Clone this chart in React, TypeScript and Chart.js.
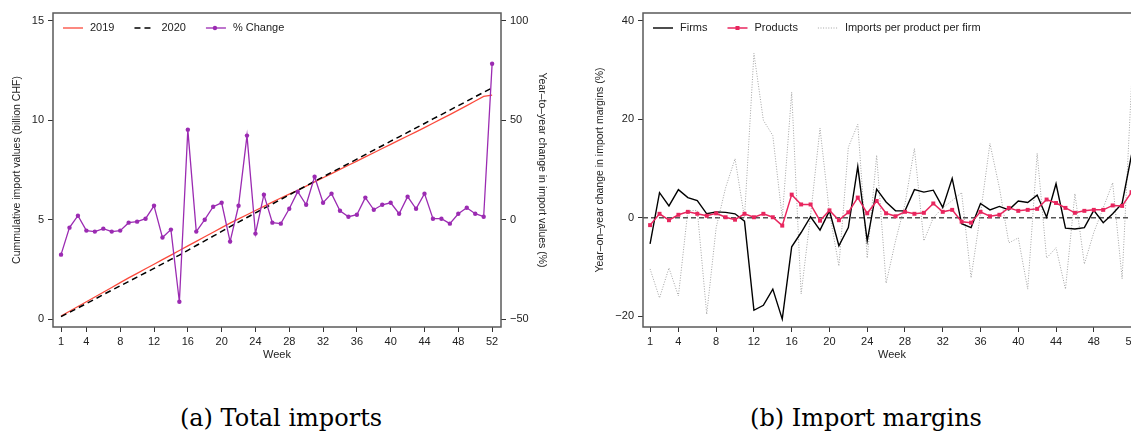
import React, { useEffect, useRef } from "react";
import { Chart, registerables } from "chart.js";

Chart.register(...registerables);

const FONT = "'Liberation Sans', Arial, Helvetica, sans-serif";

// ---------- data ----------
const weeks = [
  1, 2, 3, 4, 5, 6, 7, 8, 9, 10, 11, 12, 13, 14, 15, 16, 17, 18, 19, 20, 21, 22, 23, 24, 25, 26,
  27, 28, 29, 30, 31, 32, 33, 34, 35, 36, 37, 38, 39, 40, 41, 42, 43, 44, 45, 46, 47, 48, 49, 50, 51, 52,
];
const weekTicks = [1, 4, 8, 12, 16, 20, 24, 28, 32, 36, 40, 44, 48, 52];

// (a) Total imports
const cum2019 = [
  0.15, 0.39, 0.63, 0.87, 1.11, 1.35, 1.59, 1.83, 2.07, 2.3, 2.53, 2.76, 2.99, 3.22, 3.45, 3.68,
  3.91, 4.14, 4.37, 4.6, 4.83, 5.04, 5.25, 5.46, 5.67, 5.88, 6.09, 6.29, 6.48, 6.69, 6.9, 7.11,
  7.32, 7.53, 7.74, 7.95, 8.16, 8.37, 8.58, 8.79, 9.0, 9.21, 9.42, 9.63, 9.85, 10.07, 10.29, 10.51,
  10.74, 10.97, 11.2, 11.27,
];
const cum2020 = [
  0.12, 0.34, 0.56, 0.78, 1.0, 1.23, 1.45, 1.67, 1.89, 2.11, 2.33, 2.55, 2.78, 3.0, 3.22, 3.46,
  3.7, 3.93, 4.17, 4.41, 4.65, 4.88, 5.11, 5.34, 5.57, 5.79, 6.02, 6.25, 6.48, 6.7, 6.93, 7.15,
  7.38, 7.6, 7.82, 8.05, 8.27, 8.5, 8.72, 8.95, 9.17, 9.39, 9.62, 9.84, 10.07, 10.29, 10.51, 10.74,
  10.96, 11.19, 11.41, 11.63,
];
const pctChange = [
  -17.6, -4.0, 2.0, -5.5, -6.0, -4.5, -6.0, -5.5, -1.5, -1.0, 0.5, 7.0, -9.0, -5.0, -41.3, 45.3,
  -6.0, 0.0, 6.5, 8.5, -11.0, 7.0, 42.3, -7.0, 12.6, -1.5, -2.0, 5.5, 14.1, 7.5, 21.6, 8.5,
  13.1, 4.5, 1.5, 2.5, 11.1, 5.0, 7.5, 8.5, 3.0, 11.6, 5.5, 13.1, 0.5, 0.5, -2.0, 3.0,
  6.0, 3.0, 1.5, 78.5,
];
const cumTicks = [0, 5, 10, 15];
const pctTicks = [-50, 0, 50, 100];

// (b) Import margins
const firms = [
  -5.3, 5.1, 2.4, 5.7, 4.1, 3.5, 0.8, 1.2, 1.1, 0.8, -0.7, -18.8, -17.8, -14.5, -20.6, -5.9,
  -3.0, 0.2, -2.5, 1.4, -5.7, -2.0, 10.4, -4.7, 5.8, 3.2, 1.4, 1.4, 5.7, 5.2, 5.6, 2.1,
  8.0, -1.2, -2.0, 2.9, 1.6, 2.3, 1.6, 3.4, 3.1, 4.6, 0.1, 6.9, -2.1, -2.3, -2.0, 1.5,
  -1.0, 0.8, 2.9, 12.8,
];
const products = [
  -1.5, 0.8, -0.5, 0.6, 1.2, 0.8, 0.4, 0.9, 0.1, -0.4, 0.8, 0.1, 0.8, 0.1, -1.6, 4.7,
  2.7, 2.7, -0.6, 1.5, -0.5, 1.1, 4.1, 0.9, 3.4, 0.9, 0.3, 1.2, 0.8, 1.0, 2.9, 1.2,
  1.6, -0.8, -1.0, 1.2, 0.3, 0.6, 2.0, 1.4, 1.6, 1.8, 3.7, 3.0, 2.0, 1.0, 1.4, 1.6,
  1.6, 2.5, 2.4, 5.2,
];
const perProductPerFirm = [
  -10.4, -16.3, -10.2, -15.9, 1.4, 1.5, -19.6, -2.0, 6.1, 12.0, 0.0, 33.4, 19.8, 16.7, 0.0, 25.5,
  -15.5, 0.5, 18.2, 1.0, -9.8, 14.3, 19.0, -8.2, 12.7, -13.3, -4.7, 2.8, 14.1, -4.7, 0.0, 2.0,
  3.5, 5.1, -12.2, 0.8, 15.1, 6.1, -5.1, -4.1, -14.5, 13.1, -8.2, -6.1, -14.5, 4.9, -9.4, -3.0,
  2.0, 7.1, -12.4, 27.3,
];
const marginTicks = [-20, 0, 20, 40];

// ---------- helpers ----------
const toXY = (ys: number[]) => ys.map((y, i) => ({ x: weeks[i], y }));
const fmt = (v: number) => (v < 0 ? "\u2212" + Math.abs(v) : String(v));

type LegendItem = {
  label: string;
  color: string;
  width: number;
  dash: number[];
  marker?: "circle" | "rect";
};

function framePlugin() {
  return {
    id: "frameBox",
    afterDraw(chart: any) {
      const { ctx, chartArea: a } = chart;
      ctx.save();
      ctx.strokeStyle = "#5a5a5a";
      ctx.lineWidth = 1.5;
      ctx.strokeRect(a.left, a.top, a.right - a.left, a.bottom - a.top);
      ctx.restore();
    },
  };
}

function zeroLinePlugin(axisId: string) {
  return {
    id: "zeroLine",
    beforeDatasetsDraw(chart: any) {
      const { ctx, chartArea: a } = chart;
      const y = chart.scales[axisId].getPixelForValue(0);
      ctx.save();
      ctx.strokeStyle = "#555";
      ctx.lineWidth = 1.5;
      ctx.setLineDash([5, 3]);
      ctx.beginPath();
      ctx.moveTo(a.left, y);
      ctx.lineTo(a.right, y);
      ctx.stroke();
      ctx.restore();
    },
  };
}

function legendPlugin(items: LegendItem[]) {
  return {
    id: "insideLegend",
    afterDraw(chart: any) {
      const { ctx, chartArea } = chart;
      ctx.save();
      ctx.font = `11px ${FONT}`;
      ctx.textBaseline = "middle";
      ctx.textAlign = "left";
      let x = chartArea.left + 10;
      const y = chartArea.top + 15;
      for (const it of items) {
        ctx.strokeStyle = it.color;
        ctx.lineWidth = it.width;
        ctx.setLineDash(it.dash);
        ctx.beginPath();
        ctx.moveTo(x, y);
        ctx.lineTo(x + 20, y);
        ctx.stroke();
        ctx.setLineDash([]);
        ctx.fillStyle = it.color;
        if (it.marker === "circle") {
          ctx.beginPath();
          ctx.arc(x + 9, y, 2.2, 0, Math.PI * 2);
          ctx.fill();
        } else if (it.marker === "rect") {
          ctx.fillRect(x + 8, y - 2, 4, 4);
        }
        ctx.fillStyle = "#222";
        ctx.fillText(it.label, x + 27, y);
        x += 27 + ctx.measureText(it.label).width + 20;
      }
      ctx.restore();
    },
  };
}

function xAxis(min: number, max: number) {
  return {
    type: "linear" as const,
    min,
    max,
    afterBuildTicks: (s: any) => {
      s.ticks = weekTicks.map((v) => ({ value: v }));
    },
    afterFit: (s: any) => {
      s.height = 43;
    },
    ticks: {
      font: { size: 11, family: FONT },
      color: "#222",
      padding: 3,
      maxRotation: 0,
      autoSkip: false,
      callback: (v: any) => fmt(Number(v)),
    },
    grid: { drawOnChartArea: false, tickLength: 5, color: "#333", lineWidth: 1 },
    border: { display: false },
    title: {
      display: true,
      text: "Week",
      font: { size: 11, family: FONT },
      color: "#222",
      padding: { top: 0, bottom: 8.4 },
    },
  };
}

function yAxis(
  position: "left" | "right",
  min: number,
  max: number,
  tickVals: number[],
  width: number,
  title: string,
  titlePad: number
) {
  return {
    type: "linear" as const,
    position,
    min,
    max,
    afterBuildTicks: (s: any) => {
      s.ticks = tickVals.map((v) => ({ value: v }));
    },
    afterFit: (s: any) => {
      s.width = width;
    },
    ticks: {
      font: { size: 11, family: FONT },
      color: "#222",
      padding: 4,
      callback: (v: any) => fmt(Number(v)),
    },
    grid: { drawOnChartArea: false, tickLength: 5, color: "#333", lineWidth: 1 },
    border: { display: false },
    title: {
      display: true,
      text: title,
      font: { size: 10.5, family: FONT },
      color: "#222",
      padding: { top: titlePad, bottom: 0 },
    },
  };
}

export default function App() {
  const leftRef = useRef<HTMLCanvasElement>(null);
  const rightRef = useRef<HTMLCanvasElement>(null);

  useEffect(() => {
    Chart.defaults.font.family = FONT;

    const red = "#fb4a3c";
    const purple = "#9b2bb2";
    const pink = "#e8265e";
    const gray = "#a3a3a3";

    const c1 = new Chart(leftRef.current as HTMLCanvasElement, {
      type: "line",
      data: {
        datasets: [
          {
            label: "% Change",
            data: toXY(pctChange),
            yAxisID: "y2",
            borderColor: purple,
            backgroundColor: purple,
            borderWidth: 1.3,
            pointRadius: 2.2,
            pointBorderWidth: 0,
            pointBackgroundColor: purple,
            order: 1,
          },
          {
            label: "2020",
            data: toXY(cum2020),
            yAxisID: "y",
            borderColor: "#000",
            borderWidth: 1.5,
            borderDash: [6, 4],
            pointRadius: 0,
            order: 2,
          },
          {
            label: "2019",
            data: toXY(cum2019),
            yAxisID: "y",
            borderColor: red,
            borderWidth: 1.3,
            pointRadius: 0,
            order: 3,
          },
        ],
      },
      options: {
        responsive: false,
        animation: false,
        layout: { padding: { top: 13, right: 0, left: 0, bottom: 0 } },
        plugins: { legend: { display: false }, tooltip: { enabled: false } },
        scales: {
          x: xAxis(0.05, 53.05),
          y: yAxis("left", -0.4, 15.4, cumTicks, 53, "Cummulative import values (billion CHF)", 11),
          y2: yAxis("right", -54, 104, pctTicks, 74, "Year\u2013to\u2013year change in import values (%)", 26.4),
        },
      },
      plugins: [
        framePlugin(),
        legendPlugin([
          { label: "2019", color: red, width: 1.3, dash: [] },
          { label: "2020", color: "#000", width: 1.5, dash: [6, 4] },
          { label: "% Change", color: purple, width: 1.3, dash: [], marker: "circle" },
        ]),
      ],
    } as any);

    const c2 = new Chart(rightRef.current as HTMLCanvasElement, {
      type: "line",
      data: {
        datasets: [
          {
            label: "Products",
            data: toXY(products),
            borderColor: pink,
            backgroundColor: pink,
            borderWidth: 1.5,
            pointStyle: "rect",
            pointRadius: 2.8,
            pointBorderWidth: 0,
            pointBackgroundColor: pink,
            order: 1,
          },
          {
            label: "Firms",
            data: toXY(firms),
            borderColor: "#000",
            borderWidth: 1.4,
            pointRadius: 0,
            order: 2,
          },
          {
            label: "Imports per product per firm",
            data: toXY(perProductPerFirm),
            borderColor: gray,
            borderWidth: 1,
            borderDash: [1, 1.6],
            pointRadius: 0,
            order: 3,
          },
        ],
      },
      options: {
        responsive: false,
        animation: false,
        layout: { padding: { top: 13, right: 19, left: 0, bottom: 0 } },
        plugins: { legend: { display: false }, tooltip: { enabled: false } },
        scales: {
          x: xAxis(0.25, 53.0),
          y: yAxis("left", -22.2, 41.6, marginTicks, 68, "Year\u2013on\u2013year change in import margins (%)", 18.4),
        },
      },
      plugins: [
        zeroLinePlugin("y"),
        framePlugin(),
        legendPlugin([
          { label: "Firms", color: "#000", width: 1.4, dash: [] },
          { label: "Products", color: pink, width: 1.5, dash: [], marker: "rect" },
          { label: "Imports per product per firm", color: gray, width: 1, dash: [1, 1.6] },
        ]),
      ],
    } as any);

    return () => {
      c1.destroy();
      c2.destroy();
    };
  }, []);

  const captionStyle: React.CSSProperties = {
    position: "absolute",
    top: 403,
    textAlign: "center",
    font: "24px 'DejaVu Serif', serif",
    color: "#000",
    lineHeight: "30px",
    whiteSpace: "nowrap",
  };

  return (
    <div
      style={{
        position: "absolute",
        left: 0,
        top: 0,
        width: 1131,
        height: 439,
        overflow: "hidden",
        background: "#fff",
      }}
    >
      <canvas ref={leftRef} width={575} height={370} style={{ position: "absolute", left: 0, top: 0 }} />
      <canvas ref={rightRef} width={585} height={370} style={{ position: "absolute", left: 575, top: 0 }} />
      <div style={{ ...captionStyle, left: 0, width: 562 }}>(a) Total imports</div>
      <div style={{ ...captionStyle, left: 566, width: 600 }}>(b) Import margins</div>
    </div>
  );
}
